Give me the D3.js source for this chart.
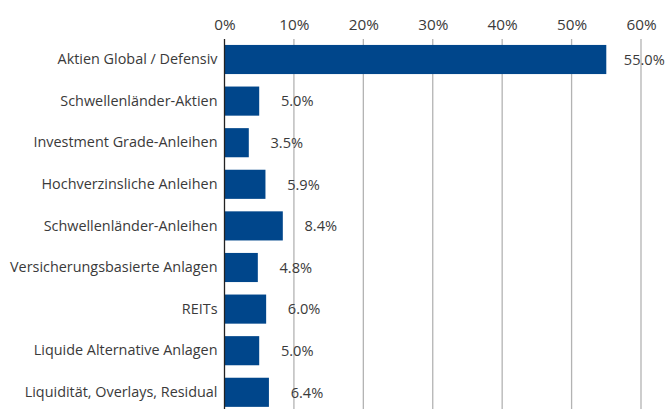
<!DOCTYPE html>
<html><head><meta charset="utf-8">
<script src="https://cdn.jsdelivr.net/npm/d3@7"></script>
<style>body{margin:0;background:#fff;}svg{display:block;font-family:"Open Sans","Noto Sans",sans-serif;}</style>
</head><body><svg id="c" width="670" height="409"></svg>
<script>
const categories = ["Aktien Global / Defensiv","Schwellenländer-Aktien","Investment Grade-Anleihen","Hochverzinsliche Anleihen","Schwellenländer-Anleihen","Versicherungsbasierte Anlagen","REITs","Liquide Alternative Anlagen","Liquidität, Overlays, Residual"];
const values = [55.0,5.0,3.5,5.9,8.4,4.8,6.0,5.0,6.4];
const ticks = [0,10,20,30,40,50,60];

const svg = d3.select("#c");
const x = d3.scaleLinear().domain([0,60]).range([224.5,641]);
const y = d3.scaleBand().domain(categories).range([38.7,38.7+9*41.6]).paddingInner(0.3).paddingOuter(0.15);

// gridlines
svg.append("g").selectAll("line").data(ticks.slice(1)).join("line")
  .attr("x1",d=>x(d)).attr("x2",d=>x(d)).attr("y1",39).attr("y2",409)
  .attr("stroke","#b3b3b3").attr("stroke-width",1.3);

// top axis labels
const ax = svg.append("g").attr("transform","translate(0,30)")
  .call(d3.axisTop(x).tickValues(ticks).tickFormat(d=>d+"%").tickSize(0).tickPadding(0));
ax.select(".domain").remove();
ax.selectAll("text").attr("font-size",15.3).attr("fill","#3a3a3a").attr("font-family","'Open Sans','Noto Sans',sans-serif");

// bars
svg.append("g").selectAll("rect").data(values).join("rect")
  .attr("x",x(0)).attr("y",(d,i)=>y(categories[i]))
  .attr("width",d=>x(d)-x(0)).attr("height",y.bandwidth())
  .attr("fill","#00468b");

// value labels
svg.append("g").selectAll("text").data(values).join("text")
  .attr("x",d=>x(d)+38).attr("y",(d,i)=>y(categories[i])+y.bandwidth()/2)
  .attr("dy","0.36em").attr("text-anchor","middle")
  .attr("font-size",14.6).attr("fill","#3a3a3a").text(d=>d.toFixed(1)+"%");

// category labels
const ay = svg.append("g").attr("transform",`translate(${x(0)},0)`)
  .call(d3.axisLeft(y).tickSize(0).tickPadding(7));
ay.select(".domain").attr("stroke","#222").attr("stroke-width",1.3).attr("d","M0,39V409");
ay.selectAll("text").attr("font-size",14.4).attr("fill","#3a3a3a").attr("font-family","'Open Sans','Noto Sans',sans-serif");
</script></body></html>
